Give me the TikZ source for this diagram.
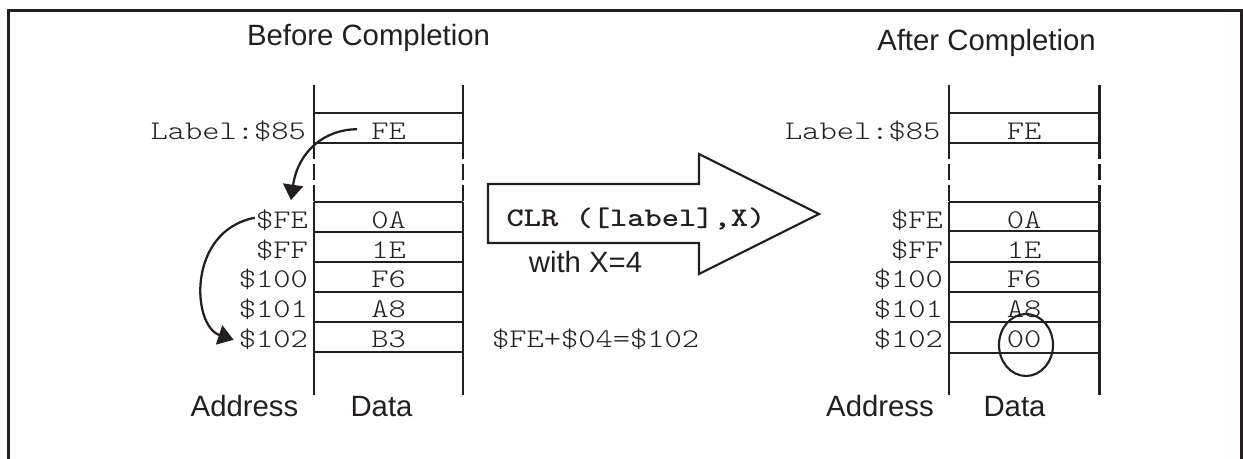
\documentclass[tikz,border=0pt]{standalone}
\usepackage{fontspec}
\setmainfont{Liberation Sans}
\setmonofont{lmmonolt10-regular.otf}[BoldFont=lmmonolt10-bold.otf, FakeStretch=1.22]
\usetikzlibrary{arrows.meta}

\definecolor{ink}{RGB}{35,31,32}

\tikzset{every picture/.style={line width=1.8pt}}
\tikzset{
  memtxt/.style={inner sep=0.75pt, font=\fontsize{20.2}{24}\selectfont\ttfamily, text=ink},
  cmdtxt/.style={inner sep=0.75pt, font=\fontsize{20.2}{24}\selectfont\ttfamily\bfseries, text=ink},
  captxt/.style={inner sep=0.75pt, font=\fontsize{22}{26}\selectfont, text=ink},
  ptr/.style={draw=ink, line width=1.7pt, -{Triangle[length=11.5pt,width=15pt]}},
  gapline/.style={draw=ink, dash pattern=on 12pt off 3.75pt},
}

\begin{document}
\begin{tikzpicture}[x=0.75pt,y=0.75pt,yscale=-1,xscale=1]
\useasboundingbox (0,0) rectangle (1243,459);

%Frame
\draw [ink, line width=2pt]   (8.5,470) -- (8.5,10.5) -- (1241.8,10.5) -- (1241.8,470) ;

%Straight Lines: table before
\draw [ink]   (314,85) -- (314,143) ;
\draw [gapline]   (314,143) -- (314,202) ;
\draw [ink]   (314,202) -- (314,395) ;
\draw [ink]   (463,85) -- (463,143) ;
\draw [gapline]   (463,143) -- (463,202) ;
\draw [ink]   (463,202) -- (463,395) ;
\draw [ink]   (314,113) -- (463,113) ;
\draw [ink]   (314,143) -- (463,143) ;
\draw [ink]   (314,202) -- (463,202) ;
\draw [ink]   (314,232) -- (463,232) ;
\draw [ink]   (314,262) -- (463,262) ;
\draw [ink]   (314,292) -- (463,292) ;
\draw [ink]   (314,322) -- (463,322) ;
\draw [ink]   (314,352) -- (463,352) ;

%Straight Lines: table after
\draw [ink]   (949,85) -- (949,143) ;
\draw [gapline]   (949,143) -- (949,202) ;
\draw [ink]   (949,202) -- (949,395) ;
\draw [ink]   (1099.5,85) -- (1099.5,143) ;
\draw [gapline]   (1099.5,143) -- (1099.5,202) ;
\draw [ink]   (1099.5,202) -- (1099.5,395) ;
\draw [ink]   (949,113) -- (1099.5,113) ;
\draw [ink]   (949,143) -- (1099.5,143) ;
\draw [ink]   (949,202) -- (1099.5,202) ;
\draw [ink]   (949,231) -- (1099.5,231) ;
\draw [ink]   (949,262) -- (1099.5,262) ;
\draw [ink]   (949,292) -- (1099.5,292) ;
\draw [ink]   (949,322) -- (1099.5,322) ;
\draw [ink]   (949,353) -- (1099.5,353) ;

%Block Arrow
\draw [ink, line width=1.6pt, line join=miter]   (488,184) -- (699,184) -- (699,154) -- (819,214) -- (699,274) -- (699,243) -- (488,243) -- cycle ;

%Ellipse
\draw [ink, line width=1.6pt]   (1026,345) ellipse [x radius=27, y radius=31] ;

% Text Node
\draw (368.5,45.5) node (headB) [anchor=base][captxt] {Before Completion};
% Text Node
\draw (986.5,51) node (headA) [anchor=base][captxt] {After Completion};

% Text Node
\draw (308,139.5) node (lblB) [anchor=base east][memtxt] {Label:\$85};
% Text Node
\draw (310,229) node (aFE) [anchor=base east][memtxt] {\$FE};
% Text Node
\draw (310,259) node (aFF) [anchor=base east][memtxt] {\$FF};
% Text Node
\draw (310,288) node (a100) [anchor=base east][memtxt] {\$100};
% Text Node
\draw (310,318) node (a101) [anchor=base east][memtxt] {\$101};
% Text Node
\draw (310,348) node (a102) [anchor=base east][memtxt] {\$102};

% Text Node
\draw (388.5,139.5) node (dFE) [anchor=base][memtxt] {FE};
% Text Node
\draw (388.5,229) node (d0A) [anchor=base][memtxt] {0A};
% Text Node
\draw (388.5,259) node (d1E) [anchor=base][memtxt] {1E};
% Text Node
\draw (388.5,288) node (dF6) [anchor=base][memtxt] {F6};
% Text Node
\draw (388.5,318) node (dA8) [anchor=base][memtxt] {A8};
% Text Node
\draw (388.5,348) node (dB3) [anchor=base][memtxt] {B3};

% Text Node
\draw (942.5,139.5) node (lblA) [anchor=base east][memtxt] {Label:\$85};
% Text Node
\draw (945,229) node (aFEr) [anchor=base east][memtxt] {\$FE};
% Text Node
\draw (945,259) node (aFFr) [anchor=base east][memtxt] {\$FF};
% Text Node
\draw (945,288) node (a100r) [anchor=base east][memtxt] {\$100};
% Text Node
\draw (945,318) node (a101r) [anchor=base east][memtxt] {\$101};
% Text Node
\draw (945,348) node (a102r) [anchor=base east][memtxt] {\$102};

% Text Node
\draw (1024,139.5) node (dFEr) [anchor=base][memtxt] {FE};
% Text Node
\draw (1024,229) node (d0Ar) [anchor=base][memtxt] {0A};
% Text Node
\draw (1024,259) node (d1Er) [anchor=base][memtxt] {1E};
% Text Node
\draw (1024,288) node (dF6r) [anchor=base][memtxt] {F6};
% Text Node
\draw (1024,318) node (dA8r) [anchor=base][memtxt] {A8};
% Text Node
\draw (1024,348) node (d00r) [anchor=base][memtxt] {00};

% Text Node
\draw (636,226.5) node (cmd) [anchor=base][cmdtxt] {CLR ([label],X)};
% Text Node
\draw (585.5,272.5) node (withX) [anchor=base][captxt] {with X=4};
% Text Node
\draw (490,348) node (sum) [anchor=base west][memtxt] {\$FE+\$04=\$102};

% Text Node
\draw (300.5,417) node (addrB) [anchor=base east][captxt] {Address};
% Text Node
\draw (381.5,417) node (dataB) [anchor=base][captxt] {Data};
% Text Node
\draw (936,417) node (addrA) [anchor=base east][captxt] {Address};
% Text Node
\draw (1014.5,417) node (dataA) [anchor=base][captxt] {Data};

%Curve Lines
\draw [ptr]   ([shift={(-12,-2)}]dFE.west) .. controls +(-33,0) and +(7,-48) .. ([shift={(9,-8)}]aFE.north) ;
%Curve Lines
\draw [ptr]   ([shift={(1,-3)}]aFE.west) .. controls +(-68,13) and +(-42,-14) .. ([shift={(-3,0)}]a102.west) ;

\end{tikzpicture}
\end{document}
